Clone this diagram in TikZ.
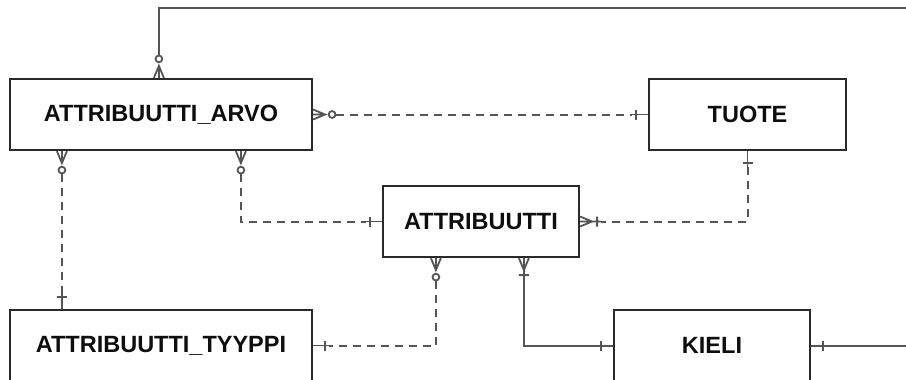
\documentclass[tikz,border=0pt]{standalone}
\usepackage{fontspec}
\setmainfont{Liberation Sans}
\definecolor{boxc}{HTML}{2A2A2A}
\definecolor{linec}{HTML}{555555}
\definecolor{txtc}{HTML}{0E0E0E}
\tikzset{
  entity/.style={draw=boxc, line width=2.2pt, fill=white, text=txtc,
    font=\bfseries\fontsize{23.5}{25}\selectfont, inner sep=0pt,
    minimum height=71pt},
  conn/.style={draw=linec, line width=2pt},
  dashconn/.style={conn, dash pattern=on 8pt off 6pt},
  endmark/.style={draw=linec, line width=1.8pt},
  % crow's foot with circle: zero or many
  zmany/.pic={
    \draw[endmark] (0,-5) -- (12,0) -- (0,5) (0,0) -- (12,0);
    \draw[endmark, fill=white] (19,0) circle[radius=3.4pt];
  },
  % single bar: exactly one
  onemark/.pic={
    \draw[endmark] (0,0) -- (16,0) (12,-5) -- (12,5);
  },
  % crow's foot with bar: one or many
  omany/.pic={
    \draw[endmark] (0,-5) -- (12,0) -- (0,5) (0,0) -- (21,0) (17,-5) -- (17,5);
  },
}
\begin{document}
\begin{tikzpicture}[x=1pt, y=-1pt]
  \fill[white] (0,0) rectangle (906,380);
  \useasboundingbox (0,0) rectangle (906,380);

  % entities
  \node[entity, minimum width=302pt] (arvo)   at (161,114.5) {ATTRIBUUTTI\_ARVO};
  \node[entity, minimum width=197pt] (tuote)  at (747.5,114.5) {TUOTE};
  \node[entity, minimum width=196pt] (attr)   at (481,221.5) {ATTRIBUUTTI};
  \node[entity, minimum width=302pt] (tyyppi) at (161,345.5) {ATTRIBUUTTI\_TYYPPI};
  \node[entity, minimum width=196pt] (kieli)  at (712,345.5) {KIELI};

  % free ends running off the right edge
  \coordinate (topend) at (906,8);
  \coordinate (kieliend) at (906,345.5);

  % attachment points along box edges
  \coordinate (arvoTop)  at ([xshift=150pt]arvo.north west);
  \coordinate (arvoB1)   at ([xshift=53pt]arvo.south west);
  \coordinate (arvoB2)   at ([xshift=232pt]arvo.south west);
  \coordinate (tyyTop)   at ([xshift=53pt]tyyppi.north west);
  \coordinate (attrB1)   at ([xshift=54pt]attr.south west);
  \coordinate (attrB2)   at ([xshift=142pt]attr.south west);

  % connectors
  \draw[conn, shorten <=22.4pt] (arvoTop) |- (topend);
  \draw[dashconn, shorten <=22.4pt, shorten >=16pt] (arvo.east) -- (tuote.west);
  \draw[dashconn, shorten <=22.4pt, shorten >=16pt] (arvoB1) -- (tyyTop);
  \draw[dashconn, shorten <=22.4pt, shorten >=16pt] (arvoB2) |- (attr.west);
  \draw[dashconn, shorten <=16pt, shorten >=21pt] (tuote.south) |- (attr.east);
  \draw[dashconn, shorten <=22.4pt, shorten >=16pt] (attrB1) |- (tyyppi.east);
  \draw[conn] (attrB2) |- (kieli.west);
  \draw[conn] (kieli.east) -- (kieliend);

  % relationship ends
  \pic[rotate=90]  at (arvoTop) {zmany};
  \pic             at (arvo.east) {zmany};
  \pic[rotate=180] at (tuote.west) {onemark};
  \pic[rotate=-90] at (arvoB1) {zmany};
  \pic[rotate=90]  at (tyyTop) {onemark};
  \pic[rotate=-90] at (arvoB2) {zmany};
  \pic[rotate=180] at (attr.west) {onemark};
  \pic[rotate=-90] at (tuote.south) {onemark};
  \pic             at (attr.east) {omany};
  \pic[rotate=-90] at (attrB1) {zmany};
  \pic             at (tyyppi.east) {onemark};
  \pic[rotate=-90] at (attrB2) {omany};
  \pic[rotate=180] at (kieli.west) {onemark};
  \pic             at (kieli.east) {onemark};
\end{tikzpicture}
\end{document}
